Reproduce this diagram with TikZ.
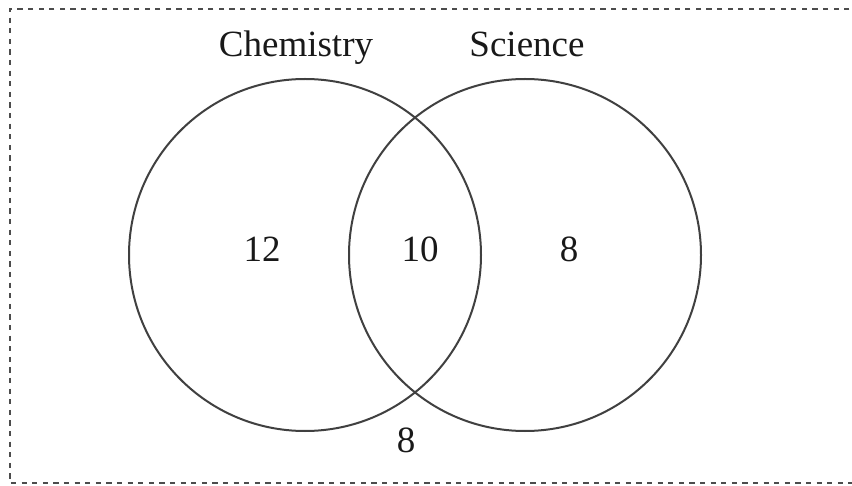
\documentclass[tikz,border=0pt]{standalone}
\usepackage{fontspec}
\setmainfont{Liberation Serif}
\begin{document}
\begin{tikzpicture}[x=0.5pt,y=-0.5pt,
  setcircle/.style={draw=black!75, line width=1pt},
  lbl/.style={anchor=base, font=\fontsize{18.5}{20}\selectfont, text=black!90, inner sep=0pt},
  frame/.style={draw=black!70, line width=1pt, dash pattern=on 2.6pt off 2.7pt}]
\useasboundingbox (0,0) rectangle (852,486);
\begin{scope}
\clip (0,0) rectangle (852,486);
\draw[frame] (860,9) -- (10,9) -- (10,483) -- (860,483);
\end{scope}
\node[setcircle, circle, minimum size=176pt, inner sep=0pt] (chem) at (305,255) {};
\node[setcircle, circle, minimum size=176pt, inner sep=0pt] (sci) at (525,255) {};
\node[lbl] (chemlbl) at (296,57) {Chemistry};
\node[lbl] (scilbl) at (527,57) {Science};
\node[lbl] (n12) at (262,262) {12};
\node[lbl] (n10) at (420,262) {10};
\node[lbl] (n8) at (569,262) {8};
\node[lbl] (nout) at (406,452) {8};
\end{tikzpicture}
\end{document}
